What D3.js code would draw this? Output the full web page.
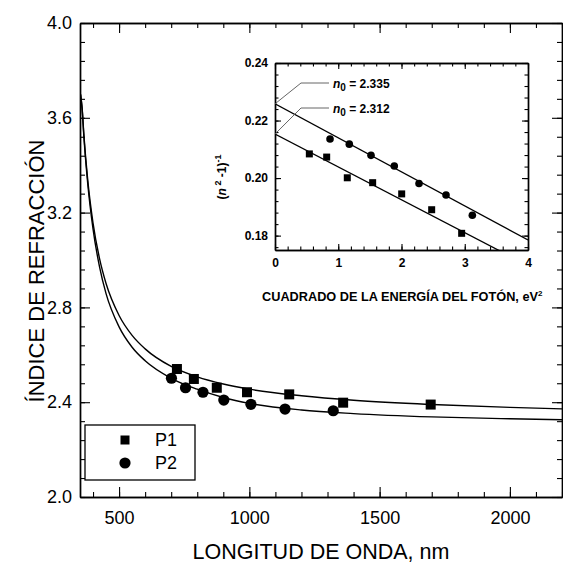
<!DOCTYPE html>
<html><head><meta charset="utf-8">
<script src="https://cdn.jsdelivr.net/npm/d3@7"></script>
<style>
html,body{margin:0;padding:0;background:#fff;}
svg{display:block;font-family:"Liberation Sans",Arial,sans-serif;}
</style></head>
<body>
<script>
// ---- Data ----
const mainXTicks = [500, 1000, 1500, 2000];
const mainYTicks = [2.0, 2.4, 2.8, 3.2, 3.6, 4.0];
const insetXTicks = [0, 1, 2, 3, 4];
const insetYTicks = [0.18, 0.20, 0.22, 0.24];

const p1Wavelength = [722, 787, 875, 991, 1153, 1360, 1696];
const p1Index      = [2.540, 2.498, 2.461, 2.442, 2.433, 2.398, 2.390];
const p2Wavelength = [701, 755, 822, 902, 1006, 1137, 1322];
const p2Index      = [2.501, 2.461, 2.442, 2.409, 2.391, 2.371, 2.364];

const p1CurveWavelength = [352, 358, 365, 380, 400, 425, 450, 500, 550, 600, 700, 800, 900, 1000, 1200, 1400, 1700, 2000, 2200];
const p1CurveIndex      = [3.700, 3.643, 3.526, 3.334, 3.156, 3.006, 2.901, 2.766, 2.682, 2.625, 2.551, 2.507, 2.477, 2.455, 2.427, 2.408, 2.390, 2.378, 2.372];
const p2CurveWavelength = [352, 358, 365, 380, 400, 425, 450, 500, 550, 600, 700, 800, 900, 1000, 1200, 1400, 1700, 2000, 2200];
const p2CurveIndex      = [3.697, 3.640, 3.519, 3.319, 3.131, 2.971, 2.858, 2.718, 2.632, 2.575, 2.501, 2.455, 2.420, 2.395, 2.367, 2.352, 2.338, 2.330, 2.326];

// Inset: (n^2-1)^-1 vs E^2
const p1E2  = [0.543, 0.817, 1.143, 1.544, 2.003, 2.477, 2.951];
const p1Inv = [0.2084, 0.2073, 0.2001, 0.1984, 0.1945, 0.1890, 0.1808];
const p2E2  = [0.87, 1.175, 1.518, 1.886, 2.277, 2.704, 3.12];
const p2Inv = [0.2136, 0.2118, 0.2079, 0.2042, 0.1981, 0.1941, 0.1871];
const p1FitE2 = [0, 4], p1FitInv = [0.2153, 0.1696];
const p2FitE2 = [0, 4], p2FitInv = [0.2258, 0.1785];
const n0Labels = ["2.335", "2.312"];
const legendLabels = ["P1", "P2"];

// ---- Layout ----
const W = 563, H = 567;
const M = {l: 80, r: 562, t: 23, b: 497};
const I = {l: 275, r: 528, t: 63, b: 250};

const svg = d3.select("body").append("svg").attr("width", W).attr("height", H);

const x = d3.scaleLinear().domain([350, 2200]).range([M.l, M.r]);
const y = d3.scaleLinear().domain([2.0, 4.0]).range([M.b, M.t]);
const xi = d3.scaleLinear().domain([0, 4]).range([I.l, I.r]);
const yi = d3.scaleLinear().domain([0.175, 0.24]).range([I.b, I.t]);

function ticksStep(a, b, s) { const out = []; for (let v = a; v <= b + 1e-9; v += s) out.push(+v.toFixed(6)); return out; }

function drawAxes(g, xs, ys, xMaj, yMaj, xMin, yMin, majLen, minLen, fontSize, fmtX, fmtY, weight, padX, padY) {
  const box = {l: xs.range()[0], r: xs.range()[1], t: ys.range()[1], b: ys.range()[0]};
  const mk = (axisFn, scale, vals, len, labels, fmt, pad) => {
    const a = axisFn(scale).tickValues(vals).tickSizeInner(-len).tickSizeOuter(0).tickPadding(pad || 3);
    if (!labels) a.tickFormat("");
    else a.tickFormat(fmt);
    return a;
  };
  const style = sel => {
    sel.select(".domain").attr("stroke", "#000").attr("stroke-width", 1.4);
    sel.selectAll(".tick line").attr("stroke", "#000").attr("stroke-width", 1.1);
    sel.selectAll("text").attr("font-size", fontSize).attr("fill", "#000")
      .attr("font-family", '"Liberation Sans", Arial, sans-serif').attr("font-weight", weight);
  };
  g.append("g").attr("transform", `translate(0,${box.b})`).call(mk(d3.axisBottom, xs, xMin, minLen, false)).call(style);
  g.append("g").attr("transform", `translate(0,${box.b})`).call(mk(d3.axisBottom, xs, xMaj, majLen, true, fmtX, padX)).call(style);
  g.append("g").attr("transform", `translate(0,${box.t})`).call(mk(d3.axisTop, xs, xMin, minLen, false)).call(style);
  g.append("g").attr("transform", `translate(0,${box.t})`).call(mk(d3.axisTop, xs, xMaj, majLen, false)).call(style);
  g.append("g").attr("transform", `translate(${box.l},0)`).call(mk(d3.axisLeft, ys, yMin, minLen, false)).call(style);
  g.append("g").attr("transform", `translate(${box.l},0)`).call(mk(d3.axisLeft, ys, yMaj, majLen, true, fmtY, padY)).call(style);
  g.append("g").attr("transform", `translate(${box.r},0)`).call(mk(d3.axisRight, ys, yMin, minLen, false)).call(style);
  g.append("g").attr("transform", `translate(${box.r},0)`).call(mk(d3.axisRight, ys, yMaj, majLen, false)).call(style);
}

// ---- Main axes ----
const gMain = svg.append("g");
drawAxes(gMain, x, y, mainXTicks, mainYTicks,
  ticksStep(400, 2200, 100), ticksStep(2.0, 4.0, 0.08),
  10, 5, 18, d3.format("d"), d3.format(".1f"), "normal", 14, 8);

// Axis titles
svg.append("text").attr("x", 321).attr("y", 559).attr("text-anchor", "middle")
  .attr("font-size", 21.5).text("LONGITUD DE ONDA, nm");
svg.append("text").attr("transform", `translate(44,271) rotate(-90)`).attr("text-anchor", "middle")
  .attr("font-size", 22).text("ÍNDICE DE REFRACCIÓN");

// Curves
svg.append("clipPath").attr("id", "clipM").append("rect")
  .attr("x", M.l).attr("y", M.t).attr("width", M.r - M.l).attr("height", M.b - M.t);
const line = d3.line().x(d => x(d[0])).y(d => y(d[1])).curve(d3.curveMonotoneX);
[[p1CurveWavelength, p1CurveIndex], [p2CurveWavelength, p2CurveIndex]].forEach(([xs, ys]) => {
  svg.append("path").datum(xs.map((v, i) => [v, ys[i]])).attr("d", line)
    .attr("fill", "none").attr("stroke", "#000").attr("stroke-width", 1.4).attr("clip-path", "url(#clipM)");
});

// Points
const sq = 10, cr = 5.6;
svg.append("g").selectAll("rect").data(p1Wavelength.map((v, i) => [v, p1Index[i]])).join("rect")
  .attr("x", d => x(d[0]) - sq / 2).attr("y", d => y(d[1]) - sq / 2).attr("width", sq).attr("height", sq).attr("fill", "#000");
svg.append("g").selectAll("circle").data(p2Wavelength.map((v, i) => [v, p2Index[i]])).join("circle")
  .attr("cx", d => x(d[0])).attr("cy", d => y(d[1])).attr("r", cr).attr("fill", "#000");

// Legend
const lg = svg.append("g");
lg.append("rect").attr("x", 85).attr("y", 425).attr("width", 110).attr("height", 55)
  .attr("fill", "#fff").attr("stroke", "#000").attr("stroke-width", 1.3);
lg.append("rect").attr("x", 125 - sq / 2 + 0.5).attr("y", 440 - sq / 2 + 0.5).attr("width", sq - 1).attr("height", sq - 1).attr("fill", "#000");
lg.append("circle").attr("cx", 125).attr("cy", 463).attr("r", cr).attr("fill", "#000");
lg.selectAll("text.lab").data(legendLabels).join("text").attr("class", "lab")
  .attr("x", 155).attr("y", (d, i) => 446 + i * 23).attr("font-size", 18).text(d => d);

// ---- Inset ----
const gIn = svg.append("g");
drawAxes(gIn, xi, yi, insetXTicks, insetYTicks,
  ticksStep(0, 4, 0.2), ticksStep(0.176, 0.24, 0.004),
  6, 3.5, 12, d3.format("d"), d3.format(".2f"), "bold", 8, 7);

svg.append("clipPath").attr("id", "clipI").append("rect")
  .attr("x", I.l).attr("y", I.t).attr("width", I.r - I.l).attr("height", I.b - I.t);
const lineI = d3.line().x(d => xi(d[0])).y(d => yi(d[1]));
[[p1FitE2, p1FitInv], [p2FitE2, p2FitInv]].forEach(([xs, ys]) => {
  svg.append("path").datum(xs.map((v, i) => [v, ys[i]])).attr("d", lineI)
    .attr("fill", "none").attr("stroke", "#000").attr("stroke-width", 1.3).attr("clip-path", "url(#clipI)");
});
const sqi = 7, cri = 3.8;
svg.append("g").selectAll("rect").data(p1E2.map((v, i) => [v, p1Inv[i]])).join("rect")
  .attr("x", d => xi(d[0]) - sqi / 2).attr("y", d => yi(d[1]) - sqi / 2).attr("width", sqi).attr("height", sqi).attr("fill", "#000");
svg.append("g").selectAll("circle").data(p2E2.map((v, i) => [v, p2Inv[i]])).join("circle")
  .attr("cx", d => xi(d[0])).attr("cy", d => yi(d[1])).attr("r", cri).attr("fill", "#000");

// Leader lines + n0 labels (upper label -> upper line intercept)
const intercepts = [p2FitInv[0], p1FitInv[0]];
n0Labels.forEach((lab, i) => {
  const ly = 83 + i * 25;
  svg.append("path").attr("d", d3.line()([[xi(0), yi(intercepts[i])], [301, ly], [329, ly]]))
    .attr("fill", "none").attr("stroke", "#555").attr("stroke-width", 0.9);
  const t = svg.append("text").attr("x", 333).attr("y", ly + 4.5).attr("font-size", 12).attr("font-weight", "bold");
  t.append("tspan").attr("font-style", "italic").text("n");
  t.append("tspan").attr("font-size", 10).attr("dy", 3).text("0");
  t.append("tspan").attr("dy", -3).text(" = " + lab);
});

// Inset titles
const ty = svg.append("text").attr("transform", `translate(226,177) rotate(-90)`).attr("text-anchor", "middle")
  .attr("font-size", 12).attr("font-weight", "bold");
ty.append("tspan").text("(");
ty.append("tspan").attr("font-style", "italic").text("n");
ty.append("tspan").attr("font-size", 9).attr("dy", -5).text(" 2");
ty.append("tspan").attr("dy", 5).text(" -1)");
ty.append("tspan").attr("font-size", 9).attr("dy", -5).text("-1");

const tx = svg.append("text").attr("x", 262).attr("y", 301)
  .attr("font-size", 12).attr("font-weight", "bold");
tx.append("tspan").attr("textLength", 276).attr("lengthAdjust", "spacingAndGlyphs").text("CUADRADO DE LA ENERGÍA DEL FOTÓN, eV");
tx.append("tspan").attr("font-size", 8).attr("dy", -5).text("2");
</script>
</body></html>
